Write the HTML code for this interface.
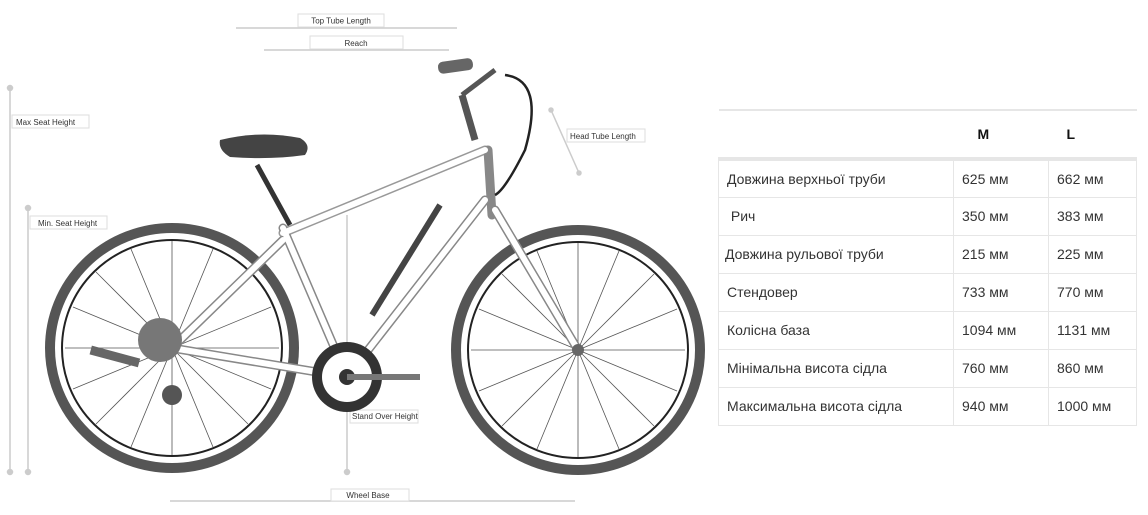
<!DOCTYPE html>
<html><head><meta charset="utf-8"><style>
body{margin:0;width:1148px;height:515px;background:#fff;overflow:hidden;position:relative;font-family:"Liberation Sans","DejaVu Sans",sans-serif}
svg{position:absolute;left:0;top:0}
table{position:absolute;left:718px;top:109px;border-collapse:collapse;table-layout:fixed;width:418px;font-size:14px;color:#333;white-space:nowrap}
td{border:1.5px solid #e6e6e6;height:38px;padding:0;box-sizing:border-box}
td.a{width:235px;padding-left:8px}
td.b{width:95px;padding-left:8px}
td.c{width:88px;padding-left:8px}
tr.h td{height:49px;border-bottom:4px solid #e6e6e6;font-weight:bold;color:#111;font-size:14px;border-left:none;border-right:none;border-top:2px solid #e6e6e6}
</style></head><body>
<svg width="1148" height="515" viewBox="0 0 1148 515">
<g stroke="#ccc" stroke-width="1.5" fill="#ccc">
<line x1="10" y1="88" x2="10" y2="472"/><circle cx="10" cy="88" r="2.5"/><circle cx="10" cy="472" r="2.5"/>
<line x1="28" y1="208" x2="28" y2="472"/><circle cx="28" cy="208" r="2.5"/><circle cx="28" cy="472" r="2.5"/>
<line x1="347" y1="215" x2="347" y2="472"/><circle cx="347" cy="472" r="2.5"/>
<line x1="236" y1="28" x2="457" y2="28"/>
<line x1="264" y1="50" x2="449" y2="50"/>
<line x1="170" y1="501" x2="575" y2="501"/>
<line x1="551" y1="110" x2="579" y2="173"/><circle cx="551" cy="110" r="2"/><circle cx="579" cy="173" r="2"/>
</g>
<g font-size="8" fill="#333" font-family="Liberation Sans">
<rect x="298" y="14" width="86" height="13" fill="#fff" stroke="#ddd"/><text x="341" y="23.5" text-anchor="middle">Top Tube Length</text>
<rect x="310" y="36" width="93" height="13" fill="#fff" stroke="#ddd"/><text x="356" y="46" text-anchor="middle">Reach</text>
<rect x="12" y="115" width="77" height="13" fill="#fff" stroke="#ddd"/><text x="16" y="125">Max Seat Height</text>
<rect x="30" y="216" width="77" height="13" fill="#fff" stroke="#ddd"/><text x="38" y="226">Min. Seat Height</text>
<rect x="567" y="129" width="78" height="13" fill="#fff" stroke="#ddd"/><text x="570" y="139">Head Tube Length</text>
<rect x="350" y="410" width="68" height="13" fill="#fff" stroke="#ddd"/><text x="352" y="419">Stand Over Height</text>
<rect x="331" y="489" width="78" height="12" fill="#fff" stroke="#ddd"/><text x="368" y="498" text-anchor="middle">Wheel Base</text>
</g>
<g fill="none">
<ellipse cx="172" cy="348" rx="122" ry="120" stroke="#555" stroke-width="10"/>
<ellipse cx="172" cy="348" rx="110" ry="108" stroke="#222" stroke-width="2"/>
<ellipse cx="578" cy="350" rx="122" ry="120" stroke="#555" stroke-width="10"/>
<ellipse cx="578" cy="350" rx="110" ry="108" stroke="#222" stroke-width="2"/>
</g>
<g stroke="#555" stroke-width="0.8">
<line x1="172" y1="348" x2="172" y2="241"/><line x1="172" y1="348" x2="172" y2="455"/>
<line x1="172" y1="348" x2="65" y2="348"/><line x1="172" y1="348" x2="279" y2="348"/>
<line x1="172" y1="348" x2="96" y2="272"/><line x1="172" y1="348" x2="248" y2="424"/>
<line x1="172" y1="348" x2="248" y2="272"/><line x1="172" y1="348" x2="96" y2="424"/>
<line x1="172" y1="348" x2="131" y2="249"/><line x1="172" y1="348" x2="213" y2="447"/>
<line x1="172" y1="348" x2="213" y2="249"/><line x1="172" y1="348" x2="131" y2="447"/>
<line x1="172" y1="348" x2="73" y2="307"/><line x1="172" y1="348" x2="271" y2="389"/>
<line x1="172" y1="348" x2="271" y2="307"/><line x1="172" y1="348" x2="73" y2="389"/>
<line x1="578" y1="350" x2="578" y2="243"/><line x1="578" y1="350" x2="578" y2="457"/>
<line x1="578" y1="350" x2="471" y2="350"/><line x1="578" y1="350" x2="685" y2="350"/>
<line x1="578" y1="350" x2="502" y2="274"/><line x1="578" y1="350" x2="654" y2="426"/>
<line x1="578" y1="350" x2="654" y2="274"/><line x1="578" y1="350" x2="502" y2="426"/>
<line x1="578" y1="350" x2="537" y2="251"/><line x1="578" y1="350" x2="619" y2="449"/>
<line x1="578" y1="350" x2="619" y2="251"/><line x1="578" y1="350" x2="537" y2="449"/>
<line x1="578" y1="350" x2="479" y2="309"/><line x1="578" y1="350" x2="677" y2="391"/>
<line x1="578" y1="350" x2="677" y2="309"/><line x1="578" y1="350" x2="479" y2="391"/>
</g>
<g stroke="#888" stroke-width="9" stroke-linecap="round" fill="none">
<line x1="283" y1="233" x2="485" y2="150" stroke="#999"/>
<line x1="485" y1="200" x2="347" y2="377"/>
<line x1="283" y1="228" x2="347" y2="377"/>
<line x1="172" y1="348" x2="347" y2="377"/>
<line x1="283" y1="240" x2="175" y2="345"/>
<line x1="488" y1="150" x2="492" y2="215"/>
<line x1="495" y1="210" x2="578" y2="350"/>
</g>
<g stroke="#fff" stroke-width="6" stroke-linecap="round" fill="none">
<line x1="283" y1="233" x2="485" y2="150"/>
<line x1="485" y1="200" x2="347" y2="377"/>
<line x1="283" y1="228" x2="347" y2="377"/>
<line x1="172" y1="348" x2="347" y2="377"/>
<line x1="283" y1="240" x2="175" y2="345"/>
<line x1="495" y1="210" x2="578" y2="350"/>
</g>
<line x1="440" y1="205" x2="372" y2="315" stroke="#444" stroke-width="6"/>
<line x1="257" y1="165" x2="290" y2="225" stroke="#333" stroke-width="5"/>
<path d="M220 140 Q260 130 300 138 Q312 145 305 155 Q270 160 230 157 Q218 150 220 140Z" fill="#444"/>
<line x1="475" y1="140" x2="462" y2="95" stroke="#555" stroke-width="7"/>
<line x1="462" y1="95" x2="495" y2="70" stroke="#555" stroke-width="5"/>
<rect x="438" y="60" width="35" height="12" rx="5" fill="#666" transform="rotate(-8 455 66)"/>
<path d="M505 75 Q545 80 525 150 Q505 190 495 195" stroke="#222" stroke-width="2.5" fill="none"/>
<circle cx="347" cy="377" r="35" fill="#333"/><circle cx="347" cy="377" r="25" fill="#fff"/>
<circle cx="347" cy="377" r="8" fill="#333"/>
<line x1="347" y1="377" x2="420" y2="377" stroke="#777" stroke-width="6"/>
<circle cx="160" cy="340" r="22" fill="#777"/>
<circle cx="172" cy="395" r="10" fill="#555"/>
<circle cx="578" cy="350" r="6" fill="#666"/>
<rect x="90" y="352" width="50" height="9" fill="#666" transform="rotate(15 115 356)"/>
</svg>
<table>
<tr class="h"><td class="a"></td><td class="b" style="padding-left:24px">M</td><td class="c" style="padding-left:18px">L</td></tr>
<tr><td class="a">Довжина верхньої труби</td><td class="b">625 мм</td><td class="c">662 мм</td></tr>
<tr><td class="a">&nbsp;Рич</td><td class="b">350 мм</td><td class="c">383 мм</td></tr>
<tr><td class="a" style="padding-left:6px">Довжина рульової труби</td><td class="b">215 мм</td><td class="c">225 мм</td></tr>
<tr><td class="a">Стендовер</td><td class="b">733 мм</td><td class="c">770 мм</td></tr>
<tr><td class="a">Колісна база</td><td class="b">1094 мм</td><td class="c">1131 мм</td></tr>
<tr><td class="a">Мінімальна висота сідла</td><td class="b">760 мм</td><td class="c">860 мм</td></tr>
<tr><td class="a">Максимальна висота сідла</td><td class="b">940 мм</td><td class="c">1000 мм</td></tr>
</table>
</body></html>
